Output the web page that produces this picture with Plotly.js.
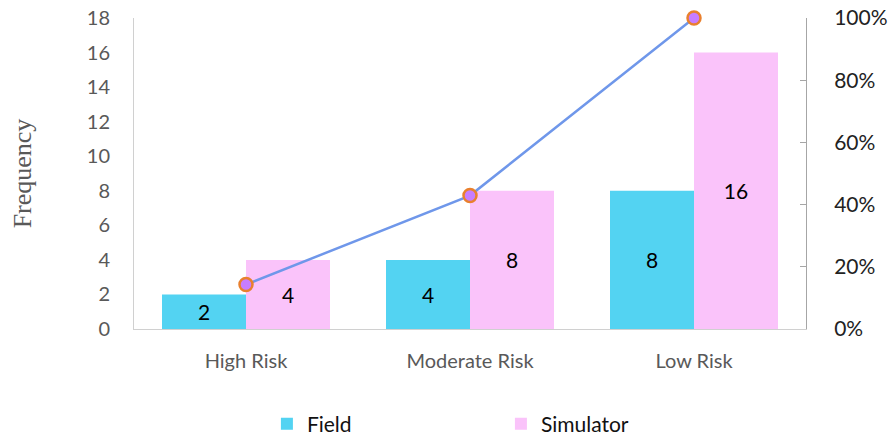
<!DOCTYPE html>
<html>
<head>
<meta charset="utf-8">
<script src="https://cdn.plot.ly/plotly-3.0.1.min.js"></script>
<style>html,body{margin:0;padding:0;background:#fff;}#chart{width:895px;height:439px;}</style>
</head>
<body>
<div id="chart"></div>
<script>
const categories = ["High Risk", "Moderate Risk", "Low Risk"];
const fieldValues = [2, 4, 8];
const simulatorValues = [4, 8, 16];
const cumulativePct = [0.143, 0.429, 1.0];

const font = "Lato, 'Open Sans', sans-serif";

const traces = [
  {
    type: "bar", name: "Field", x: categories, y: fieldValues,
    marker: {color: "#53D3F2"},
    text: fieldValues.map(String), textposition: "inside", insidetextanchor: "middle",
    textfont: {family: font, size: 21, color: "#000"}, constraintext: "none",
    hoverinfo: "none"
  },
  {
    type: "bar", name: "Simulator", x: categories, y: simulatorValues,
    marker: {color: "#FAC3FA"},
    text: simulatorValues.map(String), textposition: "inside", insidetextanchor: "middle",
    textfont: {family: font, size: 21, color: "#000"}, constraintext: "none",
    hoverinfo: "none"
  },
  {
    type: "scatter", mode: "lines+markers", x: categories, y: cumulativePct, yaxis: "y2",
    showlegend: false, cliponaxis: false,
    line: {color: "#6F97EA", width: 2.5},
    marker: {size: 13, color: "#C77DFF", line: {color: "#E9802E", width: 2.5}},
    hoverinfo: "none"
  }
];

const layout = {
  width: 895, height: 439,
  margin: {l: 134, r: 89, t: 18, b: 110, autoexpand: false},
  paper_bgcolor: "#fff", plot_bgcolor: "#fff",
  barmode: "group", bargap: 0.25, bargroupgap: 0,
  font: {family: font, color: "#595959"},
  xaxis: {
    showgrid: false, zeroline: false, showline: true, linecolor: "#D0D0D0", linewidth: 1,
    tickfont: {family: font, size: 20, color: "#595959"},
    ticks: "", ticklabelstandoff: 14, automargin: false
  },
  yaxis: {
    range: [0, 18], dtick: 2, showgrid: false, zeroline: false,
    showline: true, linecolor: "#D0D0D0", linewidth: 1,
    tickfont: {family: font, size: 20, color: "#595959"},
    ticklabelstandoff: 19, automargin: false,
    title: {text: "Frequency", font: {family: "'Liberation Serif', serif", size: 26, color: "#595959"}, standoff: 47}
  },
  yaxis2: {
    overlaying: "y", side: "right", range: [0, 1], dtick: 0.2, tickformat: ".0%",
    showgrid: false, zeroline: false, showline: true, linecolor: "#A6A6A6", linewidth: 1,
    ticks: "inside", ticklen: 6, tickcolor: "#A6A6A6",
    tickfont: {family: font, size: 21, color: "#222"},
    ticklabelstandoff: 23, automargin: false
  },
  showlegend: true,
  legend: {
    orientation: "h", x: 0.546, xanchor: "center", yref: "container", y: 0.034, yanchor: "middle",
    font: {family: font, size: 21, color: "#111"},
    entrywidth: 189, entrywidthmode: "pixels", traceorder: "normal"
  }
};

Plotly.newPlot("chart", traces, layout, {staticPlot: true, displayModeBar: false});
</script>
</body>
</html>
